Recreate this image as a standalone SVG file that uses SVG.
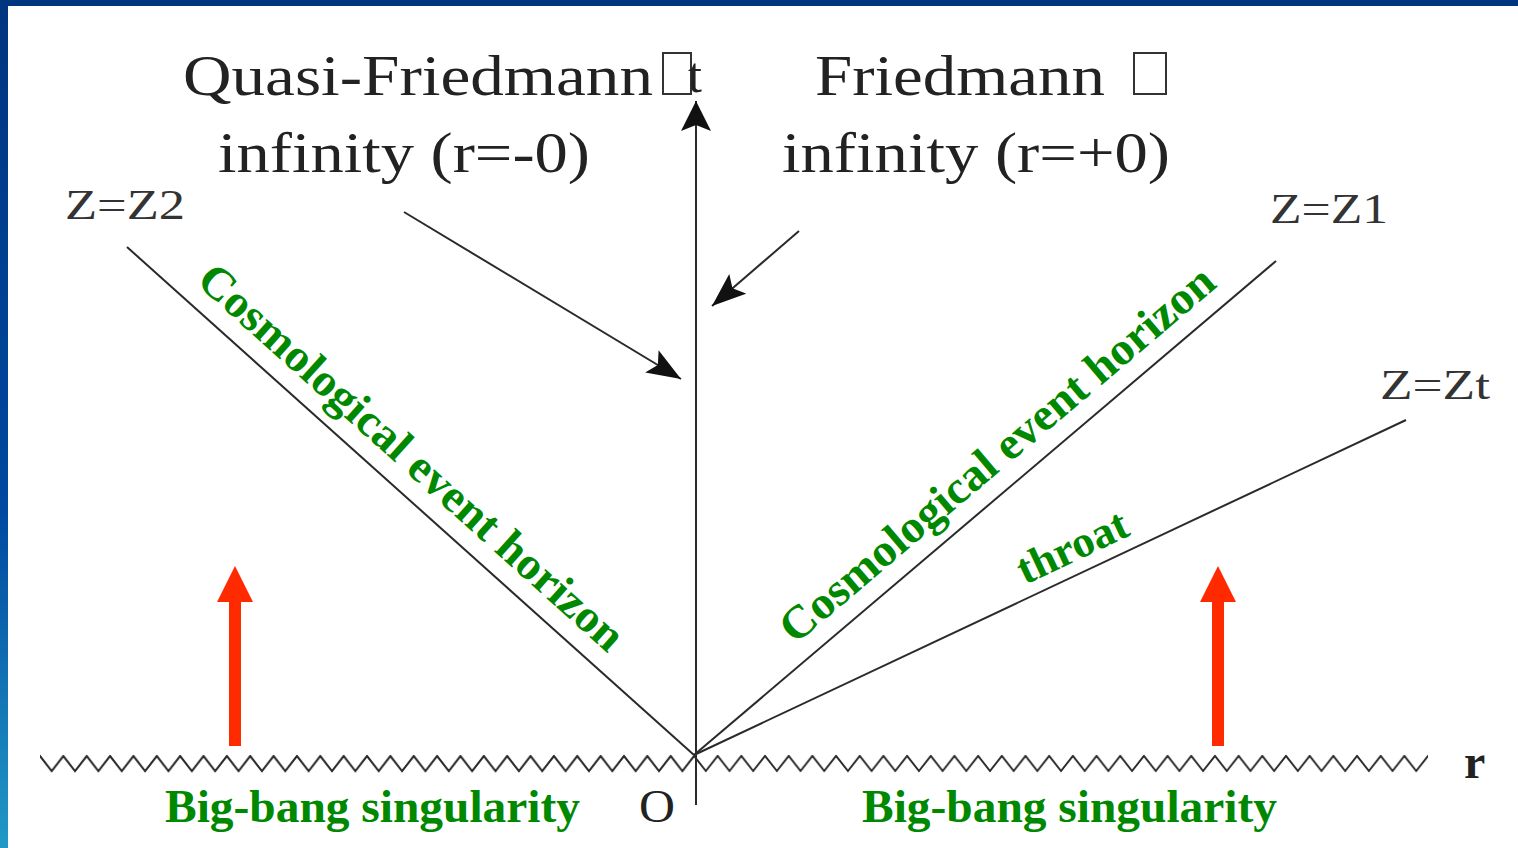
<svg xmlns="http://www.w3.org/2000/svg" width="1518" height="848" viewBox="0 0 1518 848">
<defs>
<linearGradient id="lb" x1="0" y1="0" x2="0" y2="1">
<stop offset="0" stop-color="#003580"/>
<stop offset="0.6" stop-color="#0048a0"/>
<stop offset="1" stop-color="#2199c6"/>
</linearGradient>
<marker id="ah" viewBox="0 0 34 26" refX="34" refY="13" markerWidth="34" markerHeight="26" markerUnits="userSpaceOnUse" orient="auto">
<path d="M0,0 L34,13 L0,26 L7,13 Z" fill="#111"/>
</marker>
<marker id="ah2" viewBox="0 0 30 30" refX="30" refY="15" markerWidth="30" markerHeight="30" markerUnits="userSpaceOnUse" orient="auto">
<path d="M0,0 L30,15 L0,30 L6,15 Z" fill="#111"/>
</marker>
<pattern id="zzl" x="40" y="754" width="23.36" height="20" patternUnits="userSpaceOnUse">
<polyline points="-0.5,1.5 0,2 11.68,17 23.36,2 23.86,1.5" fill="none" stroke="#2a2a2a" stroke-width="2"/>
</pattern>
<pattern id="zzr" x="694" y="754" width="23.68" height="20" patternUnits="userSpaceOnUse">
<polyline points="-0.5,1.5 0,2 11.84,17 23.68,2 24.18,1.5" fill="none" stroke="#2a2a2a" stroke-width="2"/>
</pattern>
</defs>
<style>
.lbl{font-family:"Liberation Serif","Times New Roman",serif;fill:#222;}
.z{font-family:"Liberation Serif","Times New Roman",serif;fill:#333;font-size:42px;}
.g{font-family:"Liberation Serif","Times New Roman",serif;fill:#008800;font-weight:bold;}
.ln{stroke:#2a2a2a;stroke-width:2;fill:none;}
.box{stroke:#333;stroke-width:2;fill:none;}
.red{fill:#ff2a00;}
</style>
<rect width="1518" height="848" fill="#ffffff"/>
<rect x="0" y="0" width="8" height="848" fill="url(#lb)"/>
<rect x="0" y="0" width="1518" height="6" fill="#003580"/>

<g id="connectors">
<rect id="zigzag-left" x="40" y="754" width="654" height="20" fill="url(#zzl)"/>
<rect id="zigzag-right" x="694" y="754" width="734" height="20" fill="url(#zzr)"/>
<line id="t-axis" class="ln" x1="696" y1="805" x2="696" y2="101" marker-end="url(#ah2)"/>
<line id="line-z2" class="ln" x1="127" y1="247" x2="694" y2="755"/>
<line id="line-z1" class="ln" x1="1276" y1="261" x2="694" y2="755"/>
<line id="line-zt" class="ln" x1="1406" y1="420" x2="694" y2="755"/>
<line id="arrow-quasi" class="ln" x1="404" y1="212" x2="681" y2="379" marker-end="url(#ah)"/>
<line id="arrow-fried" class="ln" x1="799" y1="231" x2="712" y2="306" marker-end="url(#ah)"/>
<path id="red-arrow-left" class="red" d="M229,746 L241,746 L241,602 L253,602 L235,566 L217,602 L229,602 Z"/>
<path id="red-arrow-right" class="red" d="M1212,746 L1224,746 L1224,602 L1236,602 L1218,566 L1200,602 L1212,602 Z"/>
</g>

<g id="label-quasi">
<text class="lbl" x="183" y="95" font-size="58" textLength="470" lengthAdjust="spacingAndGlyphs">Quasi-Friedmann</text>
<rect class="box" x="663" y="53" width="28" height="41"/>
<text class="lbl" x="688" y="92" font-size="50">t</text>
<text class="lbl" x="218" y="172" font-size="58" textLength="372" lengthAdjust="spacingAndGlyphs">infinity (r=-0)</text>
</g>
<g id="label-friedmann">
<text class="lbl" x="815" y="95" font-size="58" textLength="290" lengthAdjust="spacingAndGlyphs">Friedmann</text>
<rect class="box" x="1134" y="53" width="32" height="41"/>
<text class="lbl" x="782" y="172" font-size="58" textLength="388" lengthAdjust="spacingAndGlyphs">infinity (r=+0)</text>
</g>
<g id="label-z2"><text class="z" x="65" y="219" textLength="120" lengthAdjust="spacingAndGlyphs">Z=Z2</text></g>
<g id="label-z1"><text class="z" x="1270" y="223" textLength="118" lengthAdjust="spacingAndGlyphs">Z=Z1</text></g>
<g id="label-zt"><text class="z" x="1380" y="399" textLength="110" lengthAdjust="spacingAndGlyphs">Z=Zt</text></g>
<g id="label-r"><text class="lbl" x="1464" y="778" font-size="48" font-weight="bold">r</text></g>
<g id="label-o"><text class="lbl" x="639" y="822" font-size="46" textLength="36" lengthAdjust="spacingAndGlyphs">O</text></g>
<g id="label-horizon-left"><text class="g" font-size="46" transform="translate(195,283) rotate(41.9)" textLength="555" lengthAdjust="spacingAndGlyphs">Cosmological event horizon</text></g>
<g id="label-horizon-right"><text class="g" font-size="46" transform="translate(795,645) rotate(-40.3)" textLength="555" lengthAdjust="spacingAndGlyphs">Cosmological event horizon</text></g>
<g id="label-throat"><text class="g" font-size="44" transform="translate(1025,585) rotate(-25.2)" textLength="118" lengthAdjust="spacingAndGlyphs">throat</text></g>
<g id="label-bb-left"><text class="g" x="165" y="822" font-size="46" textLength="415" lengthAdjust="spacingAndGlyphs">Big-bang singularity</text></g>
<g id="label-bb-right"><text class="g" x="862" y="822" font-size="46" textLength="415" lengthAdjust="spacingAndGlyphs">Big-bang singularity</text></g>
</svg>
